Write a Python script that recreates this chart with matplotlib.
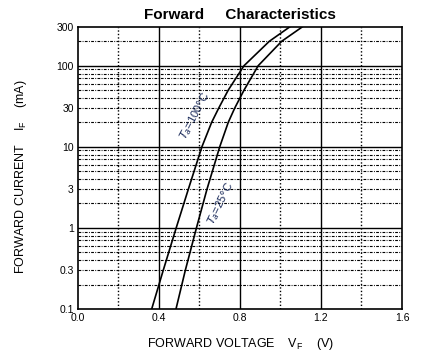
import numpy as np
import matplotlib.pyplot as plt

plt.rcParams['font.family'] = ['Liberation Sans', 'DejaVu Sans']

# forward current (mA) and forward voltage (V)
current_ma = [0.1, 0.3, 1, 3, 10, 20, 30, 50, 100, 200, 300]
vf_100c = [0.364, 0.421, 0.485, 0.545, 0.612, 0.66, 0.695, 0.742, 0.82, 0.945, 1.045]
vf_25c = [0.484, 0.53, 0.585, 0.637, 0.70, 0.742, 0.774, 0.82, 0.89, 1.006, 1.107]

x_ticks = [0.0, 0.4, 0.8, 1.2, 1.6]
x_ticklabels = ['0.0', '0.4', '0.8', '1.2', '1.6']
y_ticks = [0.1, 0.3, 1, 3, 10, 30, 100, 300]
y_ticklabels = ['0.1', '0.3', '1', '3', '10', '30', '100', '300']

fig = plt.figure(figsize=(4.22, 3.57), dpi=100)
ax = fig.add_axes([0.1848, 0.1345, 0.7678, 0.7899])

ax.set_yscale('log')
ax.set_xlim(0, 1.6)
ax.set_ylim(0.1, 300)

# grid: solid at major, dotted in between
for v in [0.4, 0.8, 1.2]:
    ax.axvline(v, color='black', lw=1.0, zorder=1)
for v in [0.2, 0.6, 1.0, 1.4]:
    ax.axvline(v, color='black', lw=1.0, ls=(0, (1, 1.5)), zorder=1)
for v in [1, 10, 100]:
    ax.axhline(v, color='black', lw=1.0, zorder=1)
minor = [m * d for d in [0.1, 1, 10] for m in range(2, 10)] + [200]
for v in minor:
    ax.axhline(v, color='black', lw=0.8, ls=(0, (2.5, 1.2, 0.8, 1.2)), zorder=1)

ax.plot(vf_100c, current_ma, color='black', lw=1.2, zorder=3)
ax.plot(vf_25c, current_ma, color='black', lw=1.2, zorder=3)

ax.text(0.578, 24, r'$T_a$=100$\degree$C', rotation=62, fontsize=8,
        color='#1a2a5a', ha='center', va='center', zorder=4)
ax.text(0.706, 2.0, r'$T_a$=25$\degree$C', rotation=64, fontsize=8,
        color='#1a2a5a', ha='center', va='center', zorder=4)

ax.set_xticks(x_ticks)
ax.set_xticklabels(x_ticklabels)
ax.set_yticks(y_ticks)
ax.set_yticklabels(y_ticklabels)
ax.minorticks_off()
ax.tick_params(length=0, labelsize=7.5, pad=3)
for s in ax.spines.values():
    s.set_linewidth(1.2)

ax.set_xlabel(r'FORWARD VOLTAGE    V$_\mathregular{F}$    (V)', fontsize=9, labelpad=9)
ax.set_ylabel(r'FORWARD CURRENT    I$_\mathregular{F}$    (mA)', fontsize=9)
ax.yaxis.set_label_coords(-0.151, 0.47)
ax.set_title('Forward     Characteristics', fontsize=11, fontweight='bold', pad=6)

fig.savefig('out.png', dpi=100)
